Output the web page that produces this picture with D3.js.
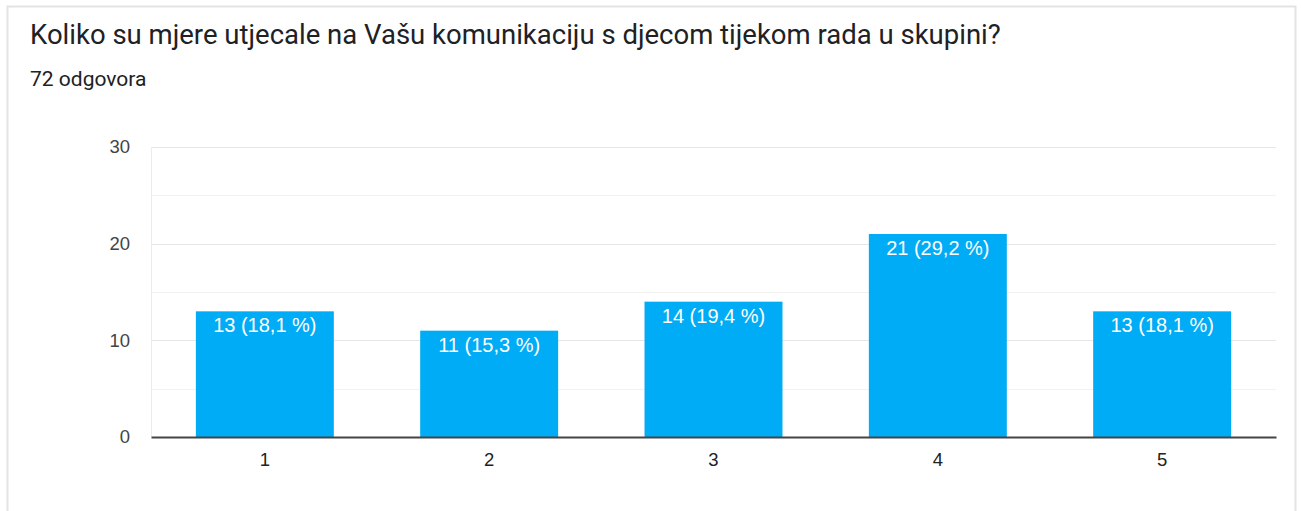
<!DOCTYPE html>
<html>
<head>
<meta charset="utf-8">
<script src="https://cdn.jsdelivr.net/npm/d3@7"></script>
<style>
  html, body { margin: 0; padding: 0; background: #fff; }
  svg { display: block; }
</style>
</head>
<body>
<svg id="chart"></svg>
<script>
const title = 'Koliko su mjere utjecale na Vašu komunikaciju s djecom tijekom rada u skupini?'
const subtitle = '72 odgovora'
const categories = ['1', '2', '3', '4', '5']
const counts = [13, 11, 14, 21, 13]
const percents = ['18,1', '15,3', '19,4', '29,2', '18,1']
const yTicks = [0, 10, 20, 30]

const width = 1301
const height = 511

const svg = d3.select('#chart').attr('width', width).attr('height', height)

// card
svg.append('rect')
  .attr('x', 7.5).attr('y', 6.5)
  .attr('width', 1288).attr('height', 520)
  .attr('fill', '#fff')
  .attr('stroke', '#e3e3e3')
  .attr('stroke-width', 2)

svg.append('text')
  .attr('x', 30).attr('y', 44)
  .attr('font-family', 'Roboto, sans-serif')
  .attr('font-size', 27.5)
  .attr('fill', '#202124')
  .text(title)

svg.append('text')
  .attr('x', 30).attr('y', 86)
  .attr('font-family', 'Roboto, sans-serif')
  .attr('font-size', 21)
  .attr('fill', '#202124')
  .text(subtitle)

const margin = { top: 147, left: 151, right: 25, bottom: 74 }
const innerW = width - margin.left - margin.right
const innerH = height - margin.top - margin.bottom

const g = svg.append('g').attr('transform', `translate(${margin.left},${margin.top})`)

const x = d3.scaleBand().domain(categories).range([0, innerW]).paddingInner(0.385).paddingOuter(0.2)
const y = d3.scaleLinear().domain([0, 30]).range([innerH, 0])

// gridlines (minor every 5)
g.append('g').selectAll('line')
  .data(d3.range(5, 31, 5))
  .join('line')
  .attr('x1', 0).attr('x2', innerW)
  .attr('y1', d => Math.round(y(d)) + 0.5).attr('y2', d => Math.round(y(d)) + 0.5)
  .attr('stroke', d => d % 10 === 0 ? '#e6e6e6' : '#f2f2f2')

// left edge line
g.append('line')
  .attr('x1', 0.5).attr('x2', 0.5)
  .attr('y1', y(30)).attr('y2', innerH)
  .attr('stroke', '#ececec')

const yAxis = g.append('g').call(d3.axisLeft(y).tickValues(yTicks).tickSize(0).tickPadding(21))
yAxis.select('.domain').remove()
yAxis.selectAll('text')
  .attr('font-family', 'Arial, "Liberation Sans", sans-serif')
  .attr('font-size', 18.5)
  .attr('fill', '#444')

g.selectAll('rect.bar')
  .data(counts)
  .join('rect')
  .attr('class', 'bar')
  .attr('x', (d, i) => x(categories[i]))
  .attr('y', d => y(d))
  .attr('width', x.bandwidth())
  .attr('height', d => innerH - y(d))
  .attr('fill', '#00acf5')

g.selectAll('text.val')
  .data(counts)
  .join('text')
  .attr('class', 'val')
  .attr('x', (d, i) => x(categories[i]) + x.bandwidth() / 2)
  .attr('y', d => y(d) + 21)
  .attr('text-anchor', 'middle')
  .attr('font-family', 'Arial, "Liberation Sans", sans-serif')
  .attr('font-size', 20)
  .attr('fill', '#fff')
  .text((d, i) => `${d} (${percents[i]} %)`)

const xAxis = g.append('g')
  .attr('transform', `translate(0,${innerH})`)
  .call(d3.axisBottom(x).tickSize(0).tickPadding(16))
xAxis.select('.domain').attr('stroke', '#444').attr('stroke-width', 2)
xAxis.selectAll('text')
  .attr('font-family', 'Arial, "Liberation Sans", sans-serif')
  .attr('font-size', 18.5)
  .attr('fill', '#222')
</script>
</body>
</html>
